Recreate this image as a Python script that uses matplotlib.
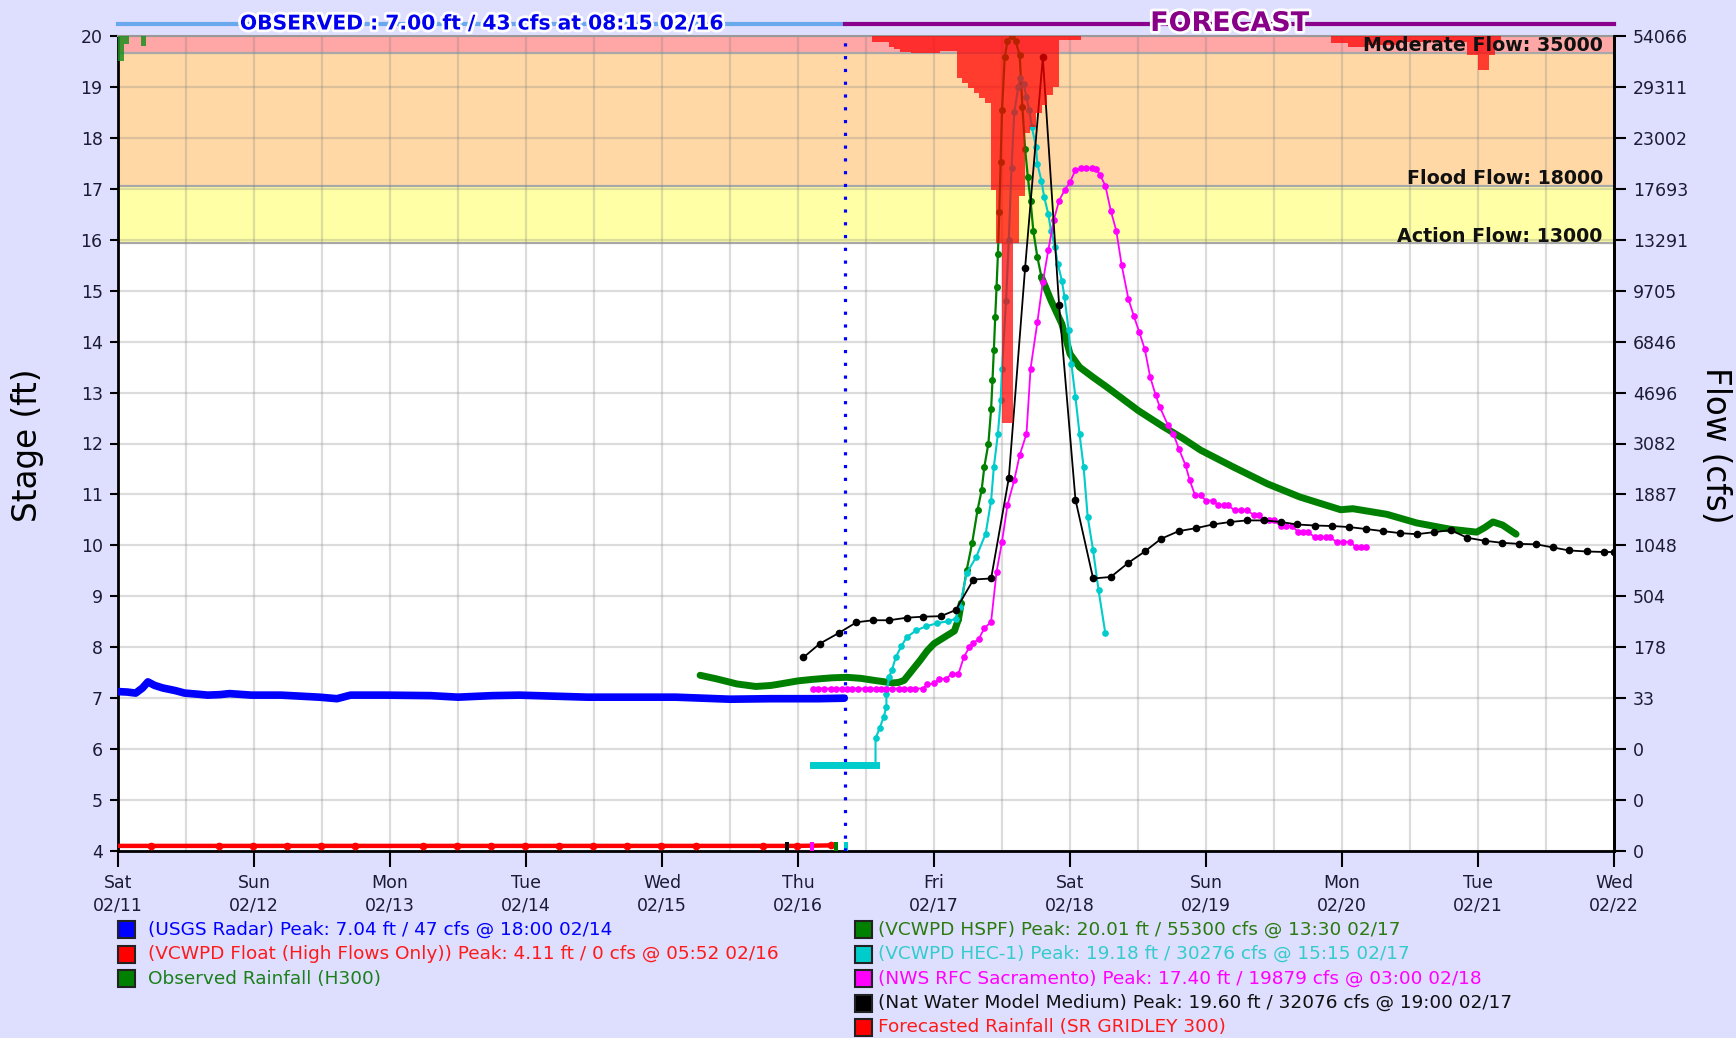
import matplotlib
matplotlib.use('Agg')
import matplotlib.pyplot as plt
import matplotlib.patheffects as pe
import matplotlib.transforms as mtransforms
from matplotlib.patches import Rectangle
import numpy as np

plt.rcParams['font.family'] = ['DejaVu Sans']

# ---------------- data ----------------
day_labels = ['Sat\n02/11', 'Sun\n02/12', 'Mon\n02/13', 'Tue\n02/14', 'Wed\n02/15', 'Thu\n02/16',
              'Fri\n02/17', 'Sat\n02/18', 'Sun\n02/19', 'Mon\n02/20', 'Tue\n02/21', 'Wed\n02/22']
stage_ticks = list(range(4, 21))
flow_labels = ['0', '0', '0', '33', '178', '504', '1048', '1887', '3082', '4696', '6846',
               '9705', '13291', '17693', '23002', '29311', '54066']

action_stage = 15.93
flood_stage = 17.06
moderate_stage = 19.67
action_label = 'Action Flow: 13000'
flood_label = 'Flood Flow: 18000'
moderate_label = 'Moderate Flow: 35000'

now_day = 5.344
observed_title = 'OBSERVED : 7.00 ft / 43 cfs at 08:15 02/16'
forecast_title = 'FORECAST'

usgs_day = [0.0, 0.07, 0.13, 0.18, 0.22, 0.27, 0.33, 0.42, 0.49, 0.58, 0.66, 0.75, 0.82, 0.98,
            1.2, 1.48, 1.61, 1.71, 1.97, 2.30, 2.50, 2.75, 2.95, 3.2, 3.45, 3.8, 4.10, 4.50,
            4.8, 5.15, 5.34]
usgs_stage = [7.13, 7.12, 7.10, 7.2, 7.32, 7.25, 7.2, 7.15, 7.1, 7.08, 7.06, 7.07, 7.09, 7.06,
              7.06, 7.02, 6.99, 7.06, 7.06, 7.05, 7.02, 7.05, 7.06, 7.04, 7.02, 7.02, 7.02, 6.98,
              6.99, 6.99, 7.0]

float_day = [0.0, 0.24, 0.74, 0.99, 1.24, 1.49, 1.74, 2.24, 2.49, 2.74, 2.99, 3.24, 3.49, 3.74,
             3.99, 4.25, 4.74, 4.99, 5.24, 5.27]
float_stage = [4.1, 4.1, 4.1, 4.1, 4.1, 4.1, 4.1, 4.1, 4.1, 4.1, 4.1, 4.1, 4.1, 4.1,
               4.1, 4.1, 4.1, 4.1, 4.11, 4.1]

obs_rain_hour = [0, 1, 4]
obs_rain_depth = [0.50, 0.15, 0.20]

hspf_day = [4.28, 4.40, 4.55, 4.69, 4.80, 4.87, 5.00, 5.11, 5.25, 5.36, 5.46, 5.56, 5.64, 5.70,
            5.74, 5.78, 5.84, 5.90, 5.95, 6.0, 6.09, 6.15, 6.18, 6.20, 6.24, 6.28, 6.32, 6.35,
            6.37, 6.40, 6.42, 6.43, 6.44, 6.45, 6.46, 6.47, 6.48, 6.49, 6.50, 6.52, 6.54, 6.57,
            6.60, 6.63, 6.65, 6.67, 6.69, 6.71, 6.73, 6.76, 6.79, 6.86, 6.94, 7.0, 7.07, 7.17,
            7.27, 7.37, 7.50, 7.68, 7.83, 7.96, 8.20, 8.45, 8.69, 8.99, 9.08, 9.33, 9.55, 9.79,
            9.99, 10.05, 10.11, 10.18, 10.28]
hspf_stage = [7.45, 7.38, 7.28, 7.23, 7.25, 7.28, 7.34, 7.37, 7.40, 7.41, 7.39, 7.35, 7.32, 7.30,
              7.31, 7.35, 7.55, 7.75, 7.93, 8.07, 8.22, 8.32, 8.55, 8.86, 9.51, 10.04, 10.69, 11.08,
              11.54, 12.0, 12.68, 13.24, 13.83, 14.48, 15.07, 15.72, 16.54, 17.52, 18.54, 19.58,
              19.9, 20.0, 19.9, 19.62, 18.6, 17.78, 17.23, 16.77, 16.18, 15.66, 15.27, 14.81, 14.35,
              13.76, 13.5, 13.3, 13.11, 12.91, 12.65, 12.34, 12.1, 11.87, 11.54, 11.21, 10.95, 10.70,
              10.72, 10.61, 10.44, 10.32, 10.26, 10.35, 10.46, 10.40, 10.22]

hec_day = [5.11, 5.20, 5.30, 5.40, 5.50, 5.57, 5.57, 5.60, 5.63, 5.65, 5.65, 5.67, 5.69, 5.72,
           5.76, 5.80, 5.87, 5.94, 6.02, 6.10, 6.16, 6.19, 6.24, 6.31, 6.38, 6.42, 6.44, 6.47,
           6.49, 6.50, 6.53, 6.55, 6.57, 6.59, 6.62, 6.635, 6.66, 6.68, 6.70, 6.72, 6.75, 6.76,
           6.79, 6.81, 6.84, 6.86, 6.89, 6.91, 6.94, 6.96, 6.99, 7.01, 7.04, 7.07, 7.10, 7.13,
           7.17, 7.21, 7.26]
hec_stage = [5.69, 5.69, 5.69, 5.69, 5.69, 5.69, 6.21, 6.41, 6.63, 6.83, 7.09, 7.42, 7.55, 7.81,
             8.02, 8.2, 8.33, 8.41, 8.47, 8.51, 8.56, 8.79, 9.45, 9.77, 10.23, 10.88, 11.54, 12.19,
             12.85, 13.47, 14.8, 16.0, 17.4, 18.5, 19.0, 19.18, 19.05, 18.80, 18.54, 18.21, 17.82,
             17.49, 17.16, 16.84, 16.51, 16.18, 15.85, 15.53, 15.2, 14.87, 14.22, 13.57, 12.91,
             12.19, 11.54, 10.56, 9.90, 9.12, 8.27]

nws_day = [5.11, 5.15, 5.19, 5.24, 5.28, 5.32, 5.36, 5.40, 5.44, 5.49, 5.53, 5.57, 5.61, 5.65,
           5.69, 5.74, 5.78, 5.82, 5.86, 5.92, 5.95, 6.0, 6.04, 6.09, 6.13, 6.18, 6.22, 6.26,
           6.29, 6.33, 6.37, 6.42, 6.46, 6.50, 6.54, 6.59, 6.63, 6.68, 6.71, 6.76, 6.80, 6.84,
           6.88, 6.92, 6.96, 7.0, 7.04, 7.08, 7.12, 7.16, 7.19, 7.22, 7.26, 7.30, 7.34, 7.38,
           7.43, 7.47, 7.51, 7.55, 7.59, 7.63, 7.66, 7.72, 7.76, 7.80, 7.85, 7.88, 7.92, 7.96,
           8.0, 8.05, 8.09, 8.13, 8.16, 8.21, 8.26, 8.30, 8.35, 8.39, 8.42, 8.46, 8.50, 8.55,
           8.59, 8.63, 8.68, 8.71, 8.75, 8.80, 8.84, 8.88, 8.91, 8.96, 9.01, 9.06, 9.10, 9.14,
           9.18]
nws_stage = [7.19, 7.19, 7.19, 7.19, 7.19, 7.19, 7.19, 7.19, 7.19, 7.19, 7.19, 7.19, 7.19, 7.19,
             7.19, 7.19, 7.19, 7.19, 7.19, 7.19, 7.27, 7.29, 7.38, 7.38, 7.48, 7.48, 7.81, 8.0,
             8.08, 8.17, 8.37, 8.5, 9.48, 10.07, 10.79, 11.28, 11.77, 12.19, 13.47, 14.38, 15.17,
             15.79, 16.38, 16.77, 16.97, 17.13, 17.37, 17.40, 17.40, 17.40, 17.39, 17.28, 17.06,
             16.57, 16.18, 15.5, 14.83, 14.5, 14.18, 13.85, 13.3, 12.95, 12.72, 12.36, 12.19,
             11.90, 11.57, 11.28, 10.98, 10.98, 10.88, 10.88, 10.79, 10.79, 10.79, 10.69, 10.69,
             10.69, 10.60, 10.60, 10.49, 10.49, 10.49, 10.38, 10.38, 10.38, 10.26, 10.26, 10.26,
             10.16, 10.16, 10.16, 10.16, 10.07, 10.07, 10.07, 9.97, 9.97, 9.97]

nwm_day = [5.04, 5.16, 5.30, 5.43, 5.55, 5.67, 5.80, 5.92, 6.05, 6.16, 6.29, 6.42, 6.55, 6.67,
           6.80, 6.92, 7.04, 7.17, 7.30, 7.43, 7.55, 7.67, 7.80, 7.93, 8.05, 8.18, 8.30, 8.43,
           8.55, 8.67, 8.80, 8.93, 9.05, 9.18, 9.30, 9.43, 9.55, 9.68, 9.80, 9.92, 10.05, 10.18,
           10.30, 10.43, 10.55, 10.67, 10.80, 10.93, 11.0]
nwm_stage = [7.80, 8.07, 8.28, 8.49, 8.53, 8.53, 8.58, 8.60, 8.61, 8.73, 9.33, 9.35, 11.32, 15.45,
             19.58, 14.71, 10.90, 9.35, 9.38, 9.66, 9.88, 10.13, 10.28, 10.34, 10.41, 10.46, 10.49,
             10.49, 10.46, 10.41, 10.39, 10.38, 10.36, 10.32, 10.28, 10.24, 10.22, 10.26, 10.30,
             10.15, 10.09, 10.05, 10.03, 10.02, 9.96, 9.90, 9.88, 9.87, 9.87]

fc_rain_hour = list(range(133, 170)) + list(range(214, 244))
fc_rain_depth = [0.11, 0.11, 0.11, 0.21, 0.26, 0.31, 0.31, 0.34, 0.34, 0.34, 0.34, 0.34, 0.29,
                 0.29, 0.29, 0.83, 0.93, 1.03, 1.12, 1.22, 1.32, 3.02, 4.07, 7.60, 7.60, 4.07,
                 3.15, 1.91, 1.78, 1.52, 1.35, 1.16, 1.00, 0.08, 0.08, 0.08, 0.08,
                 0.14, 0.14, 0.14, 0.21, 0.21, 0.21, 0.18, 0.18, 0.18, 0.18, 0.18, 0.18,
                 0.12, 0.12, 0.12, 0.12, 0.12, 0.12, 0.12, 0.12, 0.12, 0.12, 0.12, 0.12,
                 0.37, 0.37, 0.67, 0.67, 0.37, 0.12]

start_mark_day = [4.92, 5.10, 5.28, 5.35]

legend_left = [('(USGS Radar) Peak: 7.04 ft / 47 cfs @ 18:00 02/14', '#0000ff', '#0000ff'),
               ('(VCWPD Float (High Flows Only)) Peak: 4.11 ft / 0 cfs @ 05:52 02/16', '#ff0000', '#ff1a1a'),
               ('Observed Rainfall (H300)', '#008000', '#1a801a')]
legend_right = [('(VCWPD HSPF) Peak: 20.01 ft / 55300 cfs @ 13:30 02/17', '#008000', '#2a7a10'),
                ('(VCWPD HEC-1) Peak: 19.18 ft / 30276 cfs @ 15:15 02/17', '#00cccc', '#33cccc'),
                ('(NWS RFC Sacramento) Peak: 17.40 ft / 19879 cfs @ 03:00 02/18', '#ff00ff', '#ff00ff'),
                ('(Nat Water Model Medium) Peak: 19.60 ft / 32076 cfs @ 19:00 02/17', '#000000', '#111111'),
                ('Forecasted Rainfall (SR GRIDLEY 300)', '#ff0000', '#ff1a1a')]

# ---------------- figure ----------------
W, H = 1736, 1038
BG = '#dedeff'
fig = plt.figure(figsize=(W / 100, H / 100), dpi=100, facecolor=BG)
L, R, T, B = 118, 1614, 36, 851
ax = fig.add_axes([L / W, 1 - B / H, (R - L) / W, (B - T) / H])
ax.set_facecolor('white')
ax.set_xlim(0, 11)
ax.set_ylim(4, 20)

# threshold bands
ax.axhspan(action_stage, flood_stage, color='#ffffa6', lw=0, zorder=0.1)
ax.axhspan(flood_stage, moderate_stage, color='#ffd8a6', lw=0, zorder=0.1)
ax.axhspan(moderate_stage, 20, color='#ffa6a6', lw=0, zorder=0.1)
for s in (action_stage, flood_stage, moderate_stage):
    ax.axhline(s, color='#a8a8a8', lw=1.6, zorder=0.2)

# grid
ax.set_xticks(range(0, 12))
ax.set_xticklabels(day_labels)
ax.set_xticks(np.arange(0, 11.01, 0.5), minor=True)
ax.set_yticks(stage_ticks)
ax.set_yticklabels([str(s) for s in stage_ticks])
ax.set_axisbelow(True)
ax.grid(True, which='both', axis='x', color='#808080', alpha=0.27, lw=1.6)
ax.grid(True, which='major', axis='y', color='#808080', alpha=0.27, lw=1.6)

# series
ax.plot(usgs_day, usgs_stage, color='#0000ff', lw=5.5, zorder=3, solid_capstyle='round')
ax.plot(float_day, float_stage, color='#ff0000', lw=3.2, marker='o', ms=4.5,
        markevery=list(range(1, len(float_day) - 1)), zorder=3)

hd = np.array(hspf_day)
hs = np.array(hspf_stage)
steep_idx = list(np.where((hd >= 6.17) & (hd <= 6.80))[0])
ax.plot(hd, hs, color='#008000', lw=1.6, marker='o', ms=4, markevery=steep_idx, zorder=3)
pre = hd <= 6.20
post = hd >= 6.79
ax.plot(hd[pre], hs[pre], color='#008000', lw=5, zorder=3, solid_capstyle='round')
ax.plot(hd[post], hs[post], color='#008000', lw=5, zorder=3, solid_capstyle='round')

cd = np.array(hec_day)
cs = np.array(hec_stage)
ax.plot(cd, cs, color='#00cccc', lw=1.5, marker='o', ms=3.8, zorder=3.1)
flat = cs < 5.8
ax.plot(cd[flat], cs[flat], color='#00cccc', lw=5, zorder=3.1)

ax.plot(nws_day, nws_stage, color='#ff00ff', lw=1.3, marker='o', ms=3.8, zorder=3.2)
ax.plot(nwm_day, nwm_stage, color='black', lw=1.3, marker='o', ms=4.5, zorder=3.3)

# rainfall hanging from top
fr_d = np.array(fc_rain_depth)
ax.bar(np.array(fc_rain_hour) / 24.0, fr_d, bottom=20 - fr_d, width=1 / 24.0, align='edge',
       color='#ff0000', alpha=0.72, lw=0, zorder=4)
or_d = np.array(obs_rain_depth)
ax.bar(np.array(obs_rain_hour) / 24.0, or_d, bottom=20 - or_d, width=1 / 24.0, align='edge',
       color='#1f8f1f', alpha=0.85, lw=0, zorder=4)

# small start marks at bottom
ax.bar(start_mark_day, [0.17] * 4, bottom=4.0, width=0.03,
       color=['black', '#ff00ff', '#008000', '#00cccc'], lw=0, zorder=5)

# now line
ax.axvline(now_day, color='#0000ff', lw=2.3, ls=(0, (1, 3)), zorder=5)

# threshold labels
trans_lab = mtransforms.blended_transform_factory(ax.transAxes, ax.transData)
for s, lab in ((moderate_stage, moderate_label), (flood_stage, flood_label), (action_stage, action_label)):
    ax.text(0.9925, s + 0.03, lab, transform=trans_lab, ha='right', va='baseline',
            fontsize=13.7, fontweight='bold', color='#111111', zorder=6)

# top title lines
trans = mtransforms.blended_transform_factory(ax.transData, ax.transAxes)
y_t = (B - 24) / (B - T)
ax.plot([0, now_day], [y_t, y_t], transform=trans, color='#6aa8ee', lw=3, clip_on=False, zorder=6)
ax.plot([now_day, 11], [y_t, y_t], transform=trans, color='#8b008b', lw=3, clip_on=False, zorder=6)
ax.text(now_day / 2, y_t, observed_title, transform=trans, ha='center', va='center',
        color='#0000ee', fontweight='bold', fontsize=14.6, clip_on=False, zorder=7,
        path_effects=[pe.withStroke(linewidth=4, foreground='white')])
ax.text((now_day + 11) / 2, y_t, forecast_title, transform=trans, ha='center', va='center',
        color='#880088', fontweight='bold', fontsize=19.4, clip_on=False, zorder=7,
        path_effects=[pe.withStroke(linewidth=4, foreground='white')])

# axes styling
for sp in ('left', 'right', 'bottom'):
    ax.spines[sp].set_color('black')
    ax.spines[sp].set_linewidth(2)
ax.spines['top'].set_color('#999999')
ax.spines['top'].set_linewidth(1.5)
tick_col = '#1b1b33'
ax.tick_params(axis='x', which='major', length=11.5, width=1.5, pad=5, labelsize=12.5,
               labelcolor=tick_col)
ax.tick_params(axis='x', which='minor', length=0)
ax.tick_params(axis='y', length=6, width=1.5, pad=5, labelsize=12.5, labelcolor=tick_col)
for lbl in ax.get_xticklabels():
    lbl.set_linespacing(1.35)

ax2 = ax.twinx()
ax2.set_ylim(4, 20)
ax2.set_yticks(stage_ticks)
ax2.set_yticklabels(flow_labels)
ax2.tick_params(axis='y', length=8.5, width=1.5, pad=5, labelsize=12.5, labelcolor=tick_col)
for sp in ('left', 'top', 'bottom'):
    ax2.spines[sp].set_visible(False)
ax2.spines['right'].set_color('black')
ax2.spines['right'].set_linewidth(2)

# axis titles
fig.text(28 / W, 1 - 445 / H, 'Stage (ft)', rotation=90, ha='center', va='center', fontsize=23.5,
         color='black')
fig.text(1716 / W, 1 - 445 / H, 'Flow (cfs)', rotation=-90, ha='center', va='center', fontsize=23.5,
         color='black')

# legend
row_y = [929.5 + 24.5 * i for i in range(5)]
def legend_entry(xsq, xtxt, yc, text, sqc, txtc):
    fig.add_artist(Rectangle((xsq / W, 1 - (yc + 8.5) / H), 17 / W, 17 / H, transform=fig.transFigure,
                             facecolor=sqc, edgecolor='#222222', lw=1.5))
    fig.text(xtxt / W, 1 - yc / H, text, ha='left', va='center', fontsize=13.3, color=txtc)

for i, (t, sc, tc) in enumerate(legend_left):
    legend_entry(118, 148, row_y[i], t, sc, tc)
for i, (t, sc, tc) in enumerate(legend_right):
    legend_entry(855, 878, row_y[i], t, sc, tc)

fig.savefig('out.png', dpi=100, facecolor=BG)
